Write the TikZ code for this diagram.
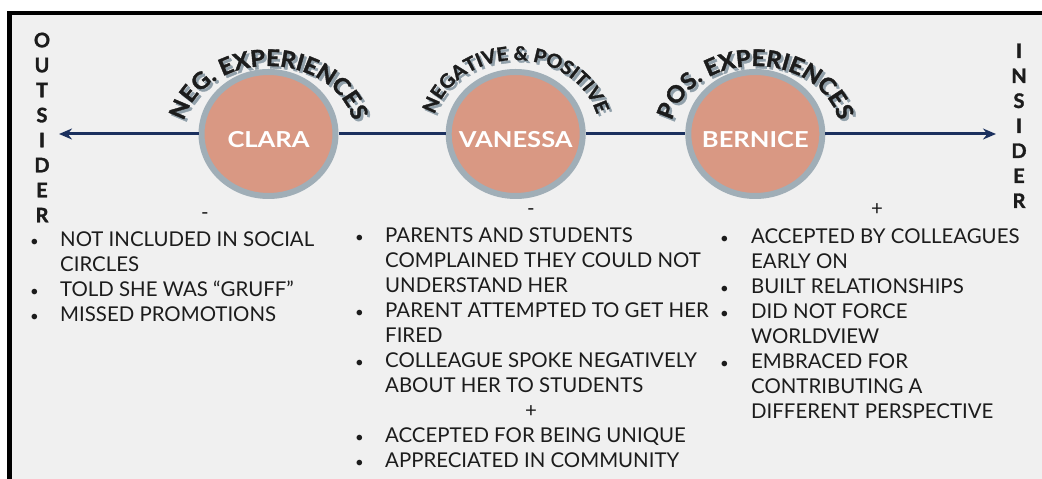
\documentclass[tikz,border=0pt]{standalone}
\usepackage{fontspec}
\setmainfont{Lato}
\newfontfamily\widefont{Lato}[FakeStretch=1.04, BoldFeatures={FakeBold=1.6}]
\newfontfamily\namefont{Lato}[FakeStretch=1.16]
\newfontfamily\heavyfont{Lato}[BoldFeatures={FakeBold=1.6}]
\usetikzlibrary{shapes.geometric,arrows.meta,decorations.text}

\definecolor{bgc}{RGB}{240,240,240}
\definecolor{salmon}{RGB}{217,152,131}
\definecolor{ringc}{RGB}{160,174,183}
\definecolor{navy}{RGB}{27,48,94}
\definecolor{ink}{RGB}{28,28,28}
\definecolor{shade}{RGB}{145,160,170}

\newcommand\arcfont[1]{\widefont\bfseries\fontsize{#1}{#1}\selectfont}
% arched caption over a person: node, text, x radius, y radius, font size
\newcommand\archtext[5]{%
  \path[decorate, decoration={text along path, text align=center,
      text={|\arcfont{#5}\color{shade}|#2}}]
    ([shift={(-#3+2.5,-2.5)}]#1.center) arc[start angle=180, end angle=0, x radius=#3, y radius=#4];
  \path[decorate, decoration={text along path, text align=center,
      text={|\arcfont{#5}\color{ink}|#2}}]
    ([shift={(-#3,0)}]#1.center) arc[start angle=180, end angle=0, x radius=#3, y radius=#4];
}
\newcommand\dotmark{{\fontsize{15}{15}\selectfont\textbullet}}

\begin{document}
\begin{tikzpicture}[x=1pt,y=1pt,
  person/.style={ellipse, fill=salmon, draw=ringc, line width=6pt,
    minimum width=134pt, minimum height=124pt, inner sep=0pt},
  nametext/.style={inner sep=0pt, text=white, yshift=-5.5pt,
    font=\namefont\bfseries\fontsize{22}{22}\selectfont},
  axis/.style={draw=navy, line width=3pt},
  tip/.style={-{Stealth[length=13pt,width=11pt]}},
  sidelabel/.style={align=center, inner sep=0pt, text=ink,
    font=\heavyfont\bfseries\fontsize{20}{25}\selectfont},
  sign/.style={inner sep=0pt, text=ink, font=\fontsize{20.4}{25}\selectfont},
  column/.style={anchor=base west, inner sep=0pt, text=ink,
    font=\fontsize{20.4}{25}\selectfont},
]
\useasboundingbox (0,0) rectangle (1042,479);
\fill[white] (0,0) rectangle (1042,479);
\fill[bgc] (9.8,-5) rectangle (1050,466);
\draw[line width=4pt] (7.3,466) -- (1050,466);
\draw[line width=5pt] (9.8,-5) -- (9.8,468);

% the three people on the outsider-insider axis
\node[person, label={[nametext]center:CLARA}] (clara) at (268.5,345) {};
\node[person, label={[nametext]center:VANESSA}] (vanessa) at (515.7,345) {};
\node[person, label={[nametext]center:BERNICE}] (bernice) at (755.3,345) {};

\coordinate (outEnd) at (59,345);
\coordinate (inEnd) at (996,345);
\draw[axis, tip] (clara.west) -- (outEnd);
\draw[axis] (clara.east) -- (vanessa.west);
\draw[axis] (vanessa.east) -- (bernice.west);
\draw[axis, tip] (bernice.east) -- (inEnd);

% arched captions
\archtext{clara}{NEG. EXPERIENCES}{86}{68}{23}
\archtext{vanessa}{NEGATIVE {\&} POSITIVE}{84}{74}{19}
\archtext{bernice}{POS. EXPERIENCES}{85}{68}{23}

% ends of the axis
\node[sidelabel] (outsider) at (42,351.5) {O\\U\\T\\S\\I\\D\\E\\R};
\node[sidelabel] (insider) at (1019,353.25) {I\\N\\S\\I\\D\\E\\R};

% signs above the lists
\node[sign] (claraSign) at (205,263) {-};
\node[sign] (vanessaSign) at (531,267) {-};
\node[sign] (berniceSign) at (877,269) {+};

% experience lists
\node[column] (claraList) at (30,232.5) {%
\begin{tabular}[t]{@{}p{30pt}@{}l@{}}
\dotmark & NOT INCLUDED IN SOCIAL\\
 & CIRCLES\\
\dotmark & TOLD SHE WAS “GRUFF”\\
\dotmark & MISSED PROMOTIONS
\end{tabular}};

\node[column] (vanessaList) at (355,236.5) {%
\begin{tabular}[t]{@{}p{30pt}@{}l@{}}
\dotmark & PARENTS AND STUDENTS\\
 & COMPLAINED THEY COULD NOT\\
 & UNDERSTAND HER\\
\dotmark & PARENT ATTEMPTED TO GET HER\\
 & FIRED\\
\dotmark & COLLEAGUE SPOKE NEGATIVELY\\
 & ABOUT HER TO STUDENTS\\
\multicolumn{2}{@{}l@{}}{\hspace{170pt}+}\\
\dotmark & ACCEPTED FOR BEING UNIQUE\\
\dotmark & APPRECIATED IN COMMUNITY
\end{tabular}};

\node[column] (bernieList) at (720,235.5) {%
\begin{tabular}[t]{@{}p{31pt}@{}l@{}}
\dotmark & ACCEPTED BY COLLEAGUES\\
 & EARLY ON\\
\dotmark & BUILT RELATIONSHIPS\\
\dotmark & DID NOT FORCE\\
 & WORLDVIEW\\
\dotmark & EMBRACED FOR\\
 & CONTRIBUTING A\\
 & DIFFERENT PERSPECTIVE
\end{tabular}};
\end{tikzpicture}
\end{document}
